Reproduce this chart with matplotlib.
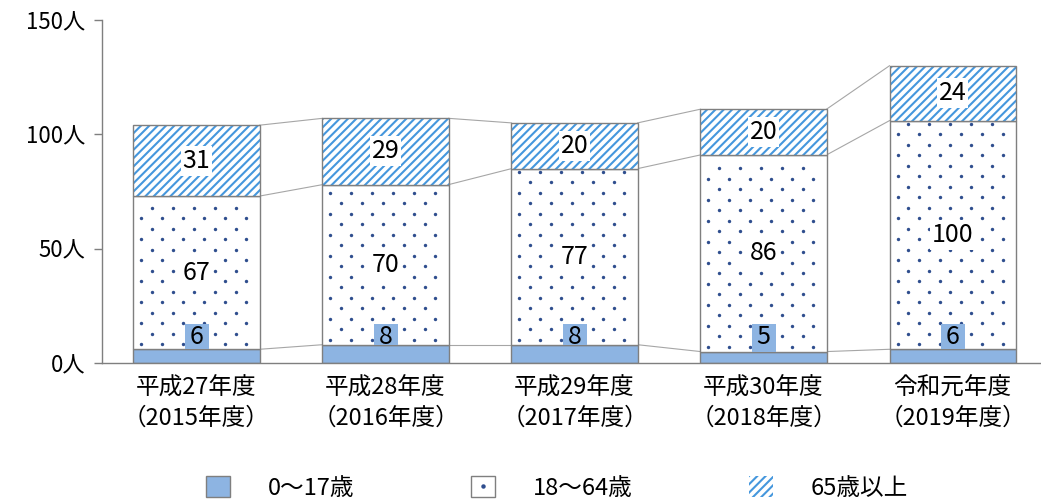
import matplotlib
matplotlib.use('Agg')
from matplotlib import pyplot as plt
from matplotlib.patches import Patch
from matplotlib.lines import Line2D
import numpy as np

plt.rcParams['font.family'] = ['Noto Sans CJK JP', 'DejaVu Sans']
plt.rcParams['hatch.linewidth'] = 1.5

years = ['平成27年度\n（2015年度）', '平成28年度\n（2016年度）', '平成29年度\n（2017年度）',
         '平成30年度\n（2018年度）', '令和元年度\n（2019年度）']
age_0_17 = [6, 8, 8, 5, 6]
age_18_64 = [67, 70, 77, 86, 100]
age_65 = [31, 29, 20, 20, 24]
yticks = [0, 50, 100, 150]

solid = '#8DB4E2'
stripe = '#4597DD'
dot = '#2F4E8E'
edge = '#7F7F7F'

fig = plt.figure(figsize=(10.41, 5.0), dpi=100)
ax = fig.add_axes([102/1041, 137/500, 939/1041, 343/500])
x = np.arange(len(years))
w = 0.667

a = np.array(age_0_17)
b = np.array(age_18_64)
c = np.array(age_65)

# thin guide lines between segment tops of neighbouring bars
for lvl in (a, a + b, a + b + c):
    for i in range(len(x) - 1):
        ax.plot([x[i] + w/2, x[i+1] - w/2], [lvl[i], lvl[i+1]], color='#A6A6A6', lw=0.8, zorder=1)

ax.bar(x, a, w, color=solid, edgecolor=edge, lw=1, zorder=2)
mid = ax.bar(x, b, w, bottom=a, color='white', edgecolor=edge, lw=1, zorder=2)
ax.bar(x, c, w, bottom=a + b, color='white', edgecolor=stripe, lw=0, hatch='////', zorder=2)
ax.bar(x, c, w, bottom=a + b, fill=False, edgecolor=edge, lw=1, zorder=3)

ax.set_xlim(-0.5, 4.468)
ax.set_ylim(0, 150)

# dotted texture in the middle segment
for p in mid.patches:
    bb = p.get_window_extent()
    pts = []
    ys = np.arange(bb.y0 + 5, bb.y1 - 3, 10.5)
    for k, yy in enumerate(ys):
        off = 8 if k % 2 == 0 else 18.5
        for xx in np.arange(bb.x0 + off, bb.x1 - 3, 21):
            pts.append((xx, yy))
    pts = ax.transData.inverted().transform(np.array(pts))
    ax.scatter(pts[:, 0], pts[:, 1], s=6, color=dot, lw=0, zorder=2.5)

# value labels
for i in range(len(x)):
    ax.bar(x[i], 17 - a[i], 0.127, bottom=a[i], color=solid, lw=0, zorder=4)
    ax.text(x[i], 11.4, str(a[i]), ha='center', va='center', fontsize=18, zorder=5)
    ax.text(x[i], a[i] + b[i]/2, str(b[i]), ha='center', va='center', fontsize=18, zorder=5,
            bbox=dict(boxstyle='square,pad=0.08', fc='white', ec='none'))
    ax.text(x[i], a[i] + b[i] + c[i]/2, str(c[i]), ha='center', va='center', fontsize=18, zorder=5,
            bbox=dict(boxstyle='square,pad=0.08', fc='white', ec='none'))

ax.set_yticks(yticks)
ax.set_yticklabels([f'{t}人' for t in yticks], fontsize=16)
ax.set_xticks(x)
ax.set_xticklabels(years, fontsize=17, linespacing=1.4)
ax.tick_params(axis='y', length=6, width=1, color=edge, pad=6)
ax.tick_params(axis='x', length=0, pad=10)
for s in ('top', 'right'):
    ax.spines[s].set_visible(False)
for s in ('left', 'bottom'):
    ax.spines[s].set_color(edge)
    ax.spines[s].set_linewidth(1)

handles = [
    Patch(facecolor=solid, edgecolor=edge, lw=1),
    (Patch(facecolor='white', edgecolor=edge, lw=1),
     Line2D([], [], ls='none', marker='o', ms=2.2, color=dot)),
    Patch(facecolor='white', edgecolor=stripe, lw=0, hatch='////'),
]
labels = ['0～17歳', '18～64歳', '65歳以上']
fig.legend(handles, labels, loc='center', bbox_to_anchor=(0.535, 0.024), ncol=3, frameon=False,
           fontsize=17, handlelength=1.0, handleheight=1.0, handletextpad=1.6, columnspacing=4.95)

fig.savefig('out.png', dpi=100)
